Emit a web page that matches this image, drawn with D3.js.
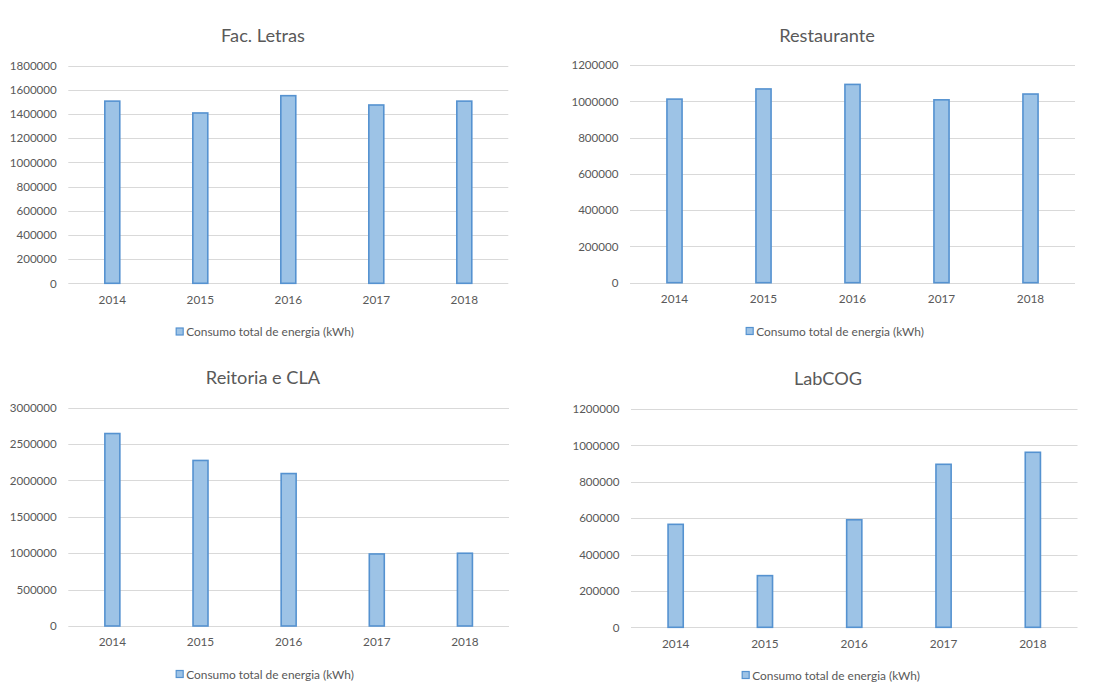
<!DOCTYPE html>
<html>
<head>
<meta charset="utf-8">
<script src="https://cdn.jsdelivr.net/npm/d3@7"></script>
<style>
  html, body { margin: 0; padding: 0; background: #ffffff; }
  svg { display: block; }
</style>
</head>
<body>
<svg id="chart" width="1108" height="682"></svg>
<script>
// Annual total energy consumption (kWh) per building
const years = ["2014", "2015", "2016", "2017", "2018"];
const seriesName = "Consumo total de energia (kWh)";

const facLetras   = [1507000, 1409000, 1552000, 1475000, 1507000];
const restaurante = [1012000, 1068000, 1093000, 1008000, 1040000];
const reitoriaCla = [2645000, 2275000, 2095000, 990000, 1000000];
const labCog      = [566000, 284000, 591000, 896000, 962000];

const facLetrasTicks   = [0, 200000, 400000, 600000, 800000, 1000000, 1200000, 1400000, 1600000, 1800000];
const restauranteTicks = [0, 200000, 400000, 600000, 800000, 1000000, 1200000];
const reitoriaClaTicks = [0, 500000, 1000000, 1500000, 2000000, 2500000, 3000000];
const labCogTicks      = [0, 200000, 400000, 600000, 800000, 1000000, 1200000];

// Panel layout: plot box, title and legend placement
const panels = [
  { title: "Fac. Letras",    values: facLetras,   ticks: facLetrasTicks,
    x0: 68.3, x1: 508.3, y0: 65.7, y1: 283.3, tx: 263, ty: 35, lx: 265, ly: 331.5 },
  { title: "Restaurante",    values: restaurante, ticks: restauranteTicks,
    x0: 630, x1: 1075, y0: 65, y1: 282.7, tx: 827, ty: 34.5, lx: 835, ly: 331 },
  { title: "Reitoria e CLA", values: reitoriaCla, ticks: reitoriaClaTicks,
    x0: 68.3, x1: 509, y0: 407.7, y1: 626, tx: 263, ty: 377, lx: 265, ly: 674 },
  { title: "LabCOG",         values: labCog,      ticks: labCogTicks,
    x0: 631, x1: 1077.5, y0: 409, y1: 627.3, tx: 828, ty: 378, lx: 831, ly: 675 }
];

const FONT = "Lato, 'Open Sans', 'DejaVu Sans', sans-serif";
const TEXT = "#595959";
const GRID = "#d9d9d9";
const FILL = "#9dc3e6";
const STROKE = "#5592d0";

const svg = d3.select("#chart");

panels.forEach(p => {
  const g = svg.append("g");

  const x = d3.scaleBand()
    .domain(years)
    .range([p.x0, p.x1])
    .paddingInner(0.83)
    .paddingOuter(0.415);

  const y = d3.scaleLinear()
    .domain([0, d3.max(p.ticks)])
    .range([p.y1, p.y0]);

  // horizontal gridlines
  g.append("g")
    .selectAll("line")
    .data(p.ticks)
    .join("line")
    .attr("x1", p.x0).attr("x2", p.x1)
    .attr("y1", d => Math.round(y(d)) + 0.5)
    .attr("y2", d => Math.round(y(d)) + 0.5)
    .attr("stroke", GRID)
    .attr("stroke-width", 1.2);

  // y axis labels
  const yAxis = d3.axisLeft(y).tickValues(p.ticks).tickSize(0).tickPadding(11.5)
    .tickFormat(d3.format("d"));
  const ya = g.append("g").attr("transform", `translate(${p.x0},0)`).call(yAxis);
  ya.select(".domain").remove();
  ya.selectAll("text")
    .attr("fill", TEXT)
    .style("font-family", FONT)
    .style("font-size", "11.6px");

  // x axis labels
  const xAxis = d3.axisBottom(x).tickSize(0).tickPadding(12);
  const xa = g.append("g").attr("transform", `translate(0,${p.y1})`).call(xAxis);
  xa.select(".domain").remove();
  xa.selectAll("text")
    .attr("fill", TEXT)
    .style("font-family", FONT)
    .style("font-size", "11.8px");

  // bars
  g.append("g")
    .selectAll("rect")
    .data(p.values)
    .join("rect")
    .attr("x", (d, i) => x(years[i]))
    .attr("width", x.bandwidth())
    .attr("y", d => y(d))
    .attr("height", d => p.y1 - y(d))
    .attr("fill", FILL)
    .attr("stroke", STROKE)
    .attr("stroke-width", 1.6);

  // title
  g.append("text")
    .attr("x", p.tx).attr("y", p.ty)
    .attr("text-anchor", "middle")
    .attr("dominant-baseline", "central")
    .attr("fill", TEXT)
    .style("font-family", FONT)
    .style("font-size", "18.2px")
    .text(p.title);

  // legend
  const leg = g.append("g");
  const lt = leg.append("text")
    .attr("y", p.ly)
    .attr("dominant-baseline", "central")
    .attr("fill", TEXT)
    .style("font-family", FONT)
    .style("font-size", "11.9px")
    .text(seriesName);
  const tw = lt.node().getComputedTextLength();
  const total = 7 + 3 + tw;
  const left = p.lx - total / 2;
  leg.append("rect")
    .attr("x", left).attr("y", p.ly - 3.5)
    .attr("width", 7).attr("height", 7)
    .attr("fill", FILL)
    .attr("stroke", STROKE)
    .attr("stroke-width", 1.2);
  lt.attr("x", left + 10);
});
</script>
</body>
</html>
